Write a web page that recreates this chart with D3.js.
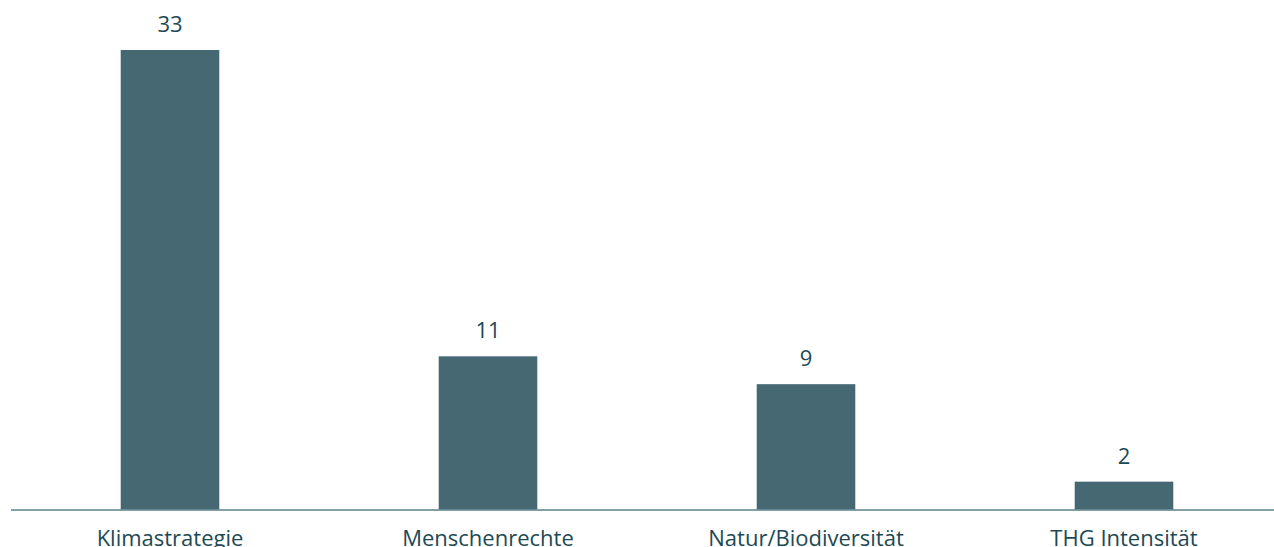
<!DOCTYPE html>
<html>
<head>
<meta charset="utf-8">
<script src="https://cdn.jsdelivr.net/npm/d3@7"></script>
<style>
  html, body { margin: 0; padding: 0; background: #ffffff; }
  svg { display: block; }
</style>
</head>
<body>
<svg id="chart" width="1274" height="547"></svg>
<script>
// Number of engagements per topic
const categories = ["Klimastrategie", "Menschenrechte", "Natur/Biodiversität", "THG Intensität"];
const values = [33, 11, 9, 2];

const W = 1274, H = 547;
const svg = d3.select("#chart");

const barColor = "#456873";
const textColor = "#1d4954";
const font = "'Open Sans', 'Noto Sans', sans-serif";

const x = d3.scaleBand()
  .domain(categories)
  .range([11, 1283])
  .paddingInner(0.69)
  .paddingOuter(0.345);

const y = d3.scaleLinear()
  .domain([0, 33])
  .range([509.5, 50]);

// Bars
svg.append("g")
  .selectAll("rect")
  .data(categories)
  .join("rect")
  .attr("x", d => x(d))
  .attr("width", x.bandwidth())
  .attr("y", (d, i) => y(values[i]))
  .attr("height", (d, i) => y(0) - y(values[i]))
  .attr("fill", barColor);

// Value labels above bars
svg.append("g")
  .selectAll("text")
  .data(categories)
  .join("text")
  .attr("x", d => x(d) + x.bandwidth() / 2)
  .attr("y", (d, i) => y(values[i]) - 18)
  .attr("text-anchor", "middle")
  .attr("font-family", font)
  .attr("font-size", 22)
  .attr("fill", textColor)
  .text((d, i) => values[i]);

// Category axis
const axis = svg.append("g")
  .attr("transform", `translate(0,${y(0)})`)
  .call(d3.axisBottom(x).tickSize(0).tickPadding(0));
axis.select(".domain")
  .attr("d", `M11,0.5H${W}`)
  .attr("stroke", "#5b7f89")
  .attr("stroke-width", 1.5);
axis.selectAll(".tick text")
  .attr("dy", null)
  .attr("y", 36)
  .attr("font-family", font)
  .attr("font-size", 22)
  .attr("fill", textColor);
</script>
</body>
</html>
